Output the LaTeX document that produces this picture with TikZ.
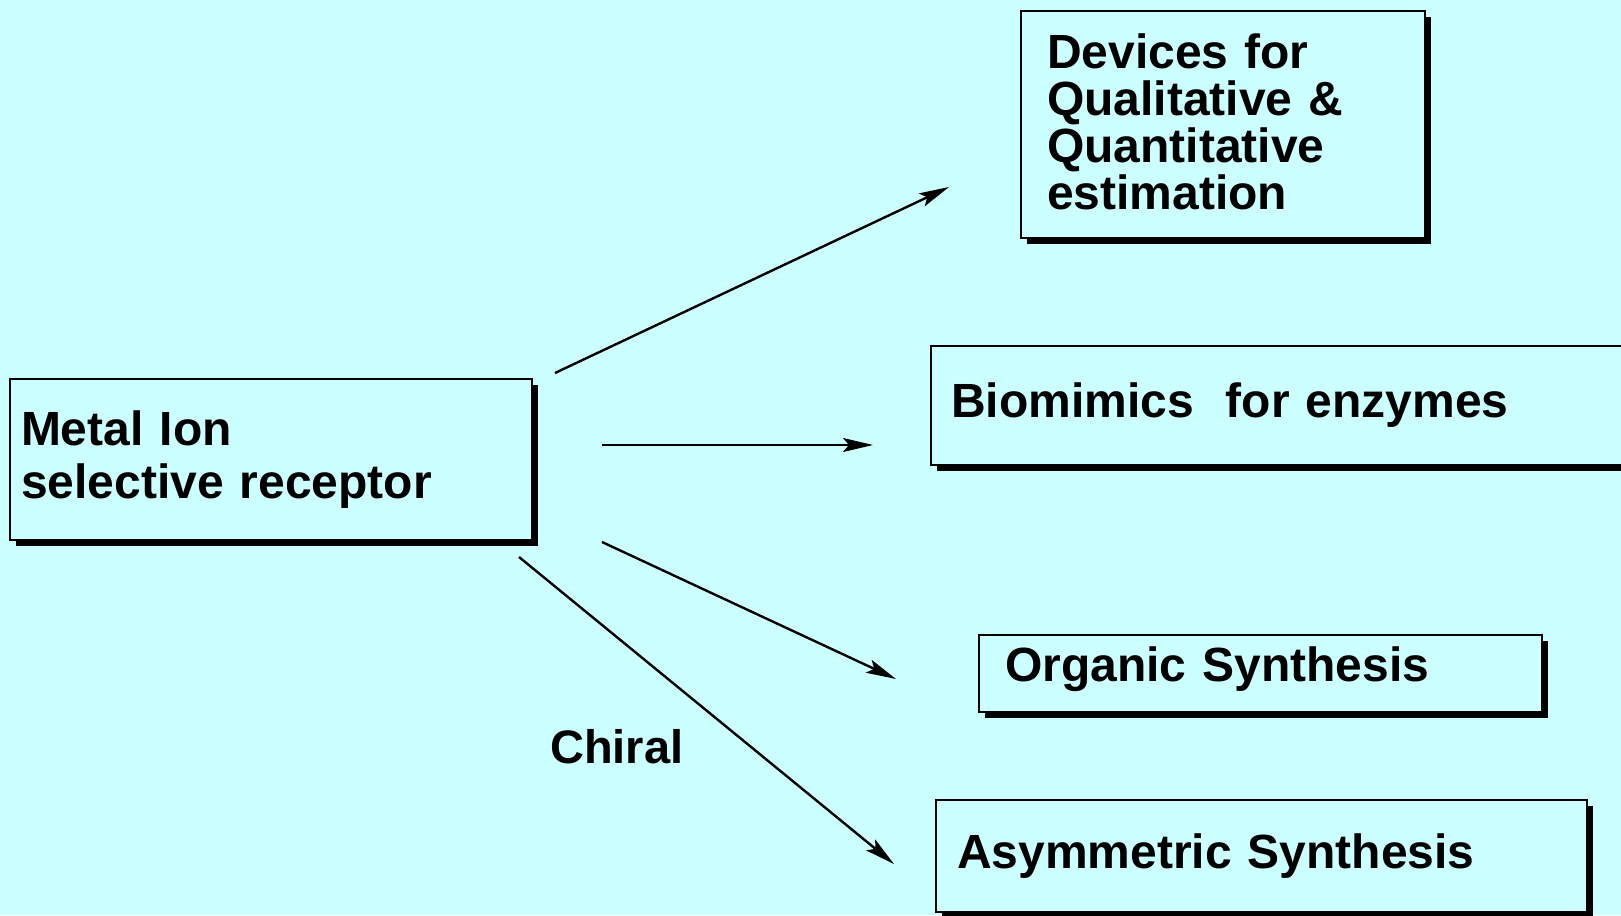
\documentclass[tikz,border=0pt]{standalone}
\usepackage{fontspec}
\setmainfont{Liberation Sans}
\usetikzlibrary{arrows.meta,shadows}
\definecolor{bgcyan}{HTML}{CCFFFF}
\newcommand{\xdepth}[1]{\rule[-#1]{0pt}{#1}}
\tikzset{
  box/.style={draw=black, line width=1.6pt, fill=bgcyan, inner ysep=0pt,
    align=left, font=\bfseries\fontsize{48}{47}\selectfont,
    drop shadow={opacity=1, fill=black, shadow xshift=6pt, shadow yshift=-6pt}},
  conn/.style={line width=2.4pt, -{Stealth[length=30pt,width=14pt,inset=6pt]}},
  lbl/.style={font=\bfseries\fontsize{47}{47}\selectfont, inner sep=0pt}
}
\begin{document}
\begin{tikzpicture}[x=1pt,y=-1pt]
\fill[bgcyan] (0,0) rectangle (1621,915);
\clip (0,0) rectangle (1621,915);
\useasboundingbox (0,0) rectangle (1621,915);

\node[box, minimum width=522pt, minimum height=161pt, inner xsep=11pt, text width=500pt,
  font=\bfseries\fontsize{48}{53}\selectfont]
  (metal) at (271,459.5) {Metal Ion\\selective receptor};
\node[box, minimum width=404pt, minimum height=227pt, inner xsep=26pt, text width=352pt]
  (devices) at (1223,124.5) {Devices for\\Qualitative \&\\Quantitative\\estimation\xdepth{6pt}};
\node[box, minimum width=709pt, minimum height=119pt, inner xsep=20pt, text width=669pt]
  (bio) at (1285.5,405.5) {Biomimics\ \ for enzymes};
\node[box, minimum width=563pt, minimum height=77pt, inner xsep=26pt, text width=511pt]
  (org) at (1260.5,673.5) {Organic Synthesis\xdepth{18pt}};
\node[box, minimum width=651pt, minimum height=112pt, inner xsep=21pt, text width=609pt]
  (asym) at (1261.5,856) {Asymmetric Synthesis};

\node[lbl, anchor=base west] (chiral) at (550,763) {Chiral};

\coordinate (s1) at (555,373);  \coordinate (e1) at (949,187);
\coordinate (s2) at (602,445);  \coordinate (e2) at (873,445);
\coordinate (s3) at (602,542);  \coordinate (e3) at (896,679);
\coordinate (s4) at (519,557);  \coordinate (e4) at (894,864);
\draw[conn] (s1) -- (e1);
\draw[conn] (s2) -- (e2);
\draw[conn] (s3) -- (e3);
\draw[conn] (s4) -- (e4);
\end{tikzpicture}
\end{document}
